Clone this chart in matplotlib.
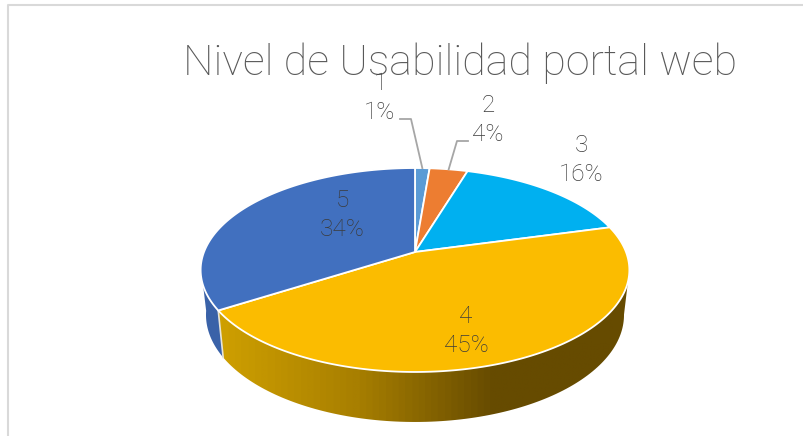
import matplotlib
matplotlib.use("Agg")
import matplotlib.pyplot as plt
import numpy as np
from matplotlib.colors import LinearSegmentedColormap
from matplotlib.patches import Polygon

title = "Nivel de Usabilidad portal web"
categories = ["1", "2", "3", "4", "5"]
values = [1.3, 3.4, 16.1, 45.2, 34.0]
pct_labels = ["1%", "4%", "16%", "45%", "34%"]
colors = ["#5B9BD5", "#ED7D31", "#00B0F0", "#FBBC00", "#4170BF"]

# pie geometry in pixels, the top face is drawn in perspective
cx, cy = 415, 252
rx, ry = 211, 98.8
persp = 0.1765
drop = 44
wall_sx, wall_sy = 0.975, 1.05
label_pos = [(380, 98), (488, 120), (581, 160), (466, 331), (342, 215)]

plt.rcParams['font.family'] = ['Roboto', 'DejaVu Sans']


def rim(deg, down=0.0, sx=1.0, sy=1.0):
    t = np.radians(deg)
    w = 1 + persp * np.cos(t)
    return cx + sx * rx * np.sin(t) / w, cy + down - sy * ry * np.cos(t) / w


def side_poly(a, b):
    t = np.linspace(a, b, 120)
    x1, y1 = rim(t)
    x2, y2 = rim(t[::-1], drop, wall_sx, wall_sy)
    return np.column_stack([np.r_[x1, x2], np.r_[y1, y2]])


fig = plt.figure(figsize=(8.04, 4.36), dpi=100)
ax = fig.add_axes([0, 0, 1, 1])

# chart frame, only top and left show
ax.plot([8.5, 8.5, 804], [436, 5.5, 5.5], color="#D9D9D9", lw=1.5, zorder=1)

ax.text(460, 63, title, ha="center", va="center", fontsize=31, fontweight="light", color="#595959", zorder=6)

edges = np.cumsum([0] + values) * 3.6
split = edges[4]  # slices 4 and 5 meet on the front wall

# side walls
poly5 = Polygon(side_poly(split, 262), fc="#3A62A8", ec="none", zorder=2)
ax.add_patch(poly5)
poly4 = Polygon(side_poly(100, split), fc="none", ec="none", zorder=2)
ax.add_patch(poly4)
side_cmap = LinearSegmentedColormap.from_list("side", ["#CFA000", "#A87F00", "#664B00", "#664B00"], N=64)
grad = ax.imshow(np.linspace(0, 1, 400).reshape(1, -1), extent=(215, 635, 436, 250), cmap=side_cmap,
                 aspect="auto", zorder=2)
grad.set_clip_path(poly4)
x_e, y_e = rim(split)
x_b, y_b = rim(split, drop, wall_sx, wall_sy)
ax.plot([x_e, x_b], [y_e, y_b], color="#E8E4D8", lw=1.2, zorder=3)

# top face
for i in range(len(values)):
    t = np.linspace(edges[i], edges[i + 1], 200)
    x, y = rim(t)
    pts = np.column_stack([np.r_[cx, x], np.r_[cy, y]])
    ax.add_patch(Polygon(pts, fc=colors[i], ec="white", lw=1.3, joinstyle="round", zorder=4))

# leader lines for the two thin slices
mid1 = rim((edges[0] + edges[1]) / 2)
mid2 = rim((edges[1] + edges[2]) / 2)
ax.plot([400, 411, mid1[0]], [119, 119, mid1[1]], color="#A6A6A6", lw=1.3, zorder=5)
ax.plot([468, 457, mid2[0]], [141, 141, mid2[1]], color="#A6A6A6", lw=1.3, zorder=5)

for i in range(len(values)):
    ax.text(label_pos[i][0], label_pos[i][1], categories[i] + "\n" + pct_labels[i], ha="center", va="center",
            fontsize=17.5, fontweight="light", linespacing=1.33, color="#3B3B3B", zorder=7)

ax.set_xlim(0, 804)
ax.set_ylim(436, 0)
ax.axis("off")

fig.savefig("out.png", dpi=100)
